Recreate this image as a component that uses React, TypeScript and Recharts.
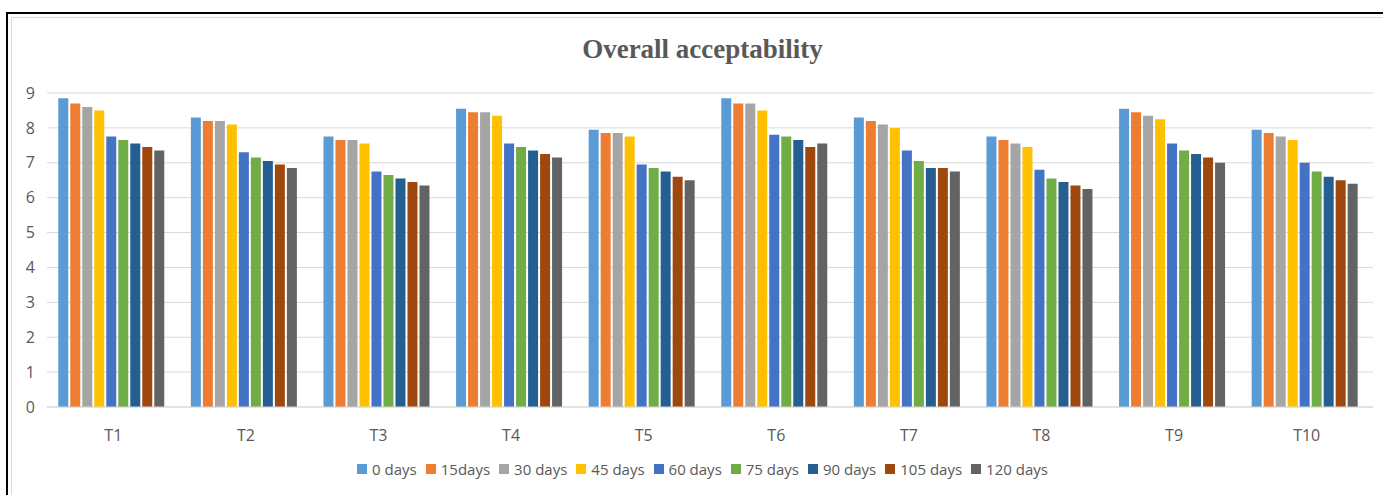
import React from 'react';
import { BarChart, Bar, XAxis, YAxis, CartesianGrid, Legend } from 'recharts';

const categories = ['T1', 'T2', 'T3', 'T4', 'T5', 'T6', 'T7', 'T8', 'T9', 'T10'];

const day0 = [8.85, 8.3, 7.75, 8.55, 7.95, 8.85, 8.3, 7.75, 8.55, 7.95];
const day15 = [8.7, 8.2, 7.65, 8.45, 7.85, 8.7, 8.2, 7.65, 8.45, 7.85];
const day30 = [8.6, 8.2, 7.65, 8.45, 7.85, 8.7, 8.1, 7.55, 8.35, 7.75];
const day45 = [8.5, 8.1, 7.55, 8.35, 7.75, 8.5, 8.0, 7.45, 8.25, 7.65];
const day60 = [7.75, 7.3, 6.75, 7.55, 6.95, 7.8, 7.35, 6.8, 7.55, 7.0];
const day75 = [7.65, 7.15, 6.65, 7.45, 6.85, 7.75, 7.05, 6.55, 7.35, 6.75];
const day90 = [7.55, 7.05, 6.55, 7.35, 6.75, 7.65, 6.85, 6.45, 7.25, 6.6];
const day105 = [7.45, 6.95, 6.45, 7.25, 6.6, 7.45, 6.85, 6.35, 7.15, 6.5];
const day120 = [7.35, 6.85, 6.35, 7.15, 6.5, 7.55, 6.75, 6.25, 7.0, 6.4];

const yTicks = [0, 1, 2, 3, 4, 5, 6, 7, 8, 9];

const series = [
  { key: 'd0', name: '0 days', values: day0, color: '#5B9BD5' },
  { key: 'd15', name: '15days', values: day15, color: '#ED7D31' },
  { key: 'd30', name: '30 days', values: day30, color: '#A5A5A5' },
  { key: 'd45', name: '45 days', values: day45, color: '#FFC000' },
  { key: 'd60', name: '60 days', values: day60, color: '#4472C4' },
  { key: 'd75', name: '75 days', values: day75, color: '#70AD47' },
  { key: 'd90', name: '90 days', values: day90, color: '#255E91' },
  { key: 'd105', name: '105 days', values: day105, color: '#9E480E' },
  { key: 'd120', name: '120 days', values: day120, color: '#636363' },
];

const data = categories.map((name, i) => {
  const row: Record<string, string | number> = { name };
  series.forEach((s) => {
    row[s.key] = s.values[i];
  });
  return row;
});

const font = '"Open Sans", "Liberation Sans", sans-serif';
const textColor = '#595959';

// legend kept in series order (recharts sorts by name otherwise)
const renderLegend = () => (
  <div style={{ display: 'flex', justifyContent: 'center', gap: 9, paddingLeft: 22, fontFamily: font, fontSize: 15, color: textColor }}>
    {series.map((s) => (
      <span key={s.key} style={{ display: 'inline-flex', alignItems: 'center', gap: 5 }}>
        <span style={{ width: 10, height: 10, background: s.color, display: 'inline-block' }} />
        {s.name}
      </span>
    ))}
  </div>
);

export default function App() {
  return (
    <div style={{ position: 'relative', width: 1383, height: 495, overflow: 'hidden', background: '#fff' }}>
      <style>{'body{margin:0}'}</style>
      {/* frame */}
      <div style={{ position: 'absolute', left: 6, top: 12, width: 1400, height: 500, border: '2px solid #000', boxSizing: 'border-box' }} />
      <div style={{ position: 'absolute', left: 11, top: 17, width: 1390, height: 500, border: '1px solid #d9d9d9', boxSizing: 'border-box' }} />
      <div
        style={{
          position: 'absolute',
          left: 0,
          top: 34,
          width: 1405,
          textAlign: 'center',
          fontFamily: '"Liberation Serif", "Times New Roman", serif',
          fontWeight: 'bold',
          fontSize: 27,
          color: textColor,
        }}
      >
        Overall acceptability
      </div>
      <div style={{ position: 'absolute', left: 0, top: 0 }}>
        <BarChart
          width={1383}
          height={495}
          data={data}
          margin={{ top: 93, right: 10, left: 17, bottom: 38 }}
          barCategoryGap="8.5%"
          barGap={2}
        >
          <CartesianGrid vertical={false} stroke="#d9d9d9" strokeWidth={1} />
          <XAxis
            dataKey="name"
            height={30}
            axisLine={{ stroke: '#d9d9d9' }}
            tickLine={false}
            tick={{ fill: textColor, fontSize: 16, fontFamily: font }}
            tickMargin={17}
          />
          <YAxis
            width={30}
            domain={[0, 9]}
            ticks={yTicks}
            axisLine={false}
            tickLine={false}
            tick={{ fill: textColor, fontSize: 16, fontFamily: font }}
            tickMargin={6}
          />
          <Legend
            content={renderLegend}
            wrapperStyle={{ top: 459, left: 0, width: 1383 }}
          />
          {series.map((s) => (
            <Bar key={s.key} dataKey={s.key} name={s.name} fill={s.color} isAnimationActive={false} />
          ))}
        </BarChart>
      </div>
    </div>
  );
}
